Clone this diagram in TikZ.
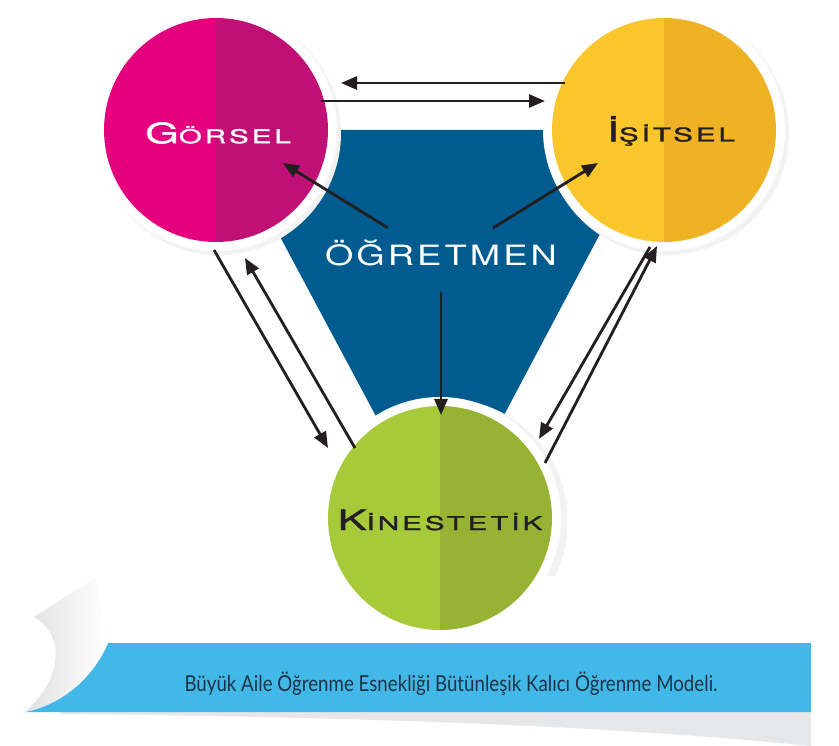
\documentclass[tikz,border=0pt]{standalone}
\usepackage{fontspec}
\usetikzlibrary{arrows.meta}
\newfontfamily\widefont[FakeStretch=1.3,LetterSpace=11]{TeX Gyre Heros}
\newfontfamily\lblfont[FakeStretch=1.55,LetterSpace=16,FakeBold=1.5]{TeX Gyre Heros}
\newfontfamily\capfont[FakeStretch=0.85]{Lato}
\definecolor{magL}{HTML}{E4007E}
\definecolor{magR}{HTML}{C00F75}
\definecolor{yelL}{HTML}{FBC62B}
\definecolor{yelR}{HTML}{EFB224}
\definecolor{grnL}{HTML}{A6CA3A}
\definecolor{grnR}{HTML}{96B334}
\definecolor{tri}{HTML}{005B8F}
\definecolor{band}{HTML}{42B8E9}
\definecolor{capc}{HTML}{1E3446}
\definecolor{ink}{HTML}{231F20}
\definecolor{shadowgray}{HTML}{E6E7E8}
\begin{document}
\begin{tikzpicture}[x=1pt,y=-1pt,
  ring/.style={circle,fill=white,minimum size=242pt,inner sep=0pt},
  shadowc/.style={circle,fill=black!5,minimum size=244pt,inner sep=0pt},
  halves/.style 2 args={circle,minimum size=224pt,inner sep=0pt,
    path picture={\fill[#1] (path picture bounding box.south west) rectangle (path picture bounding box.north);
                  \fill[#2] (path picture bounding box.north) rectangle (path picture bounding box.south east);}},
  arr/.style={line width=2.8pt,draw=ink,-{Triangle[length=16pt,width=13pt]}},
  lbl/.style={inner sep=0pt,font=\lblfont\fontsize{19}{19}\selectfont}]
\useasboundingbox (0,0) rectangle (839,746);
\fill[white] (0,0) rectangle (839,746);
% teacher triangle
\fill[tri] (223,130) -- (655,130) -- (440,536) -- cycle;
% shadows
\begin{scope}
\clip (0,0) rectangle (567,575);
\node[shadowc] (ks) at (446,521) {};
\end{scope}
\node[shadowc] (gs) at (219,133) {};
\node[shadowc] (is) at (667,133) {};
% white rings
\node[ring] (gr) at (216,130) {};
\node[ring] (ir) at (664,130) {};
\node[ring] (kr) at (440,518) {};
% coloured circles
\node[halves={magL}{magR}] (g) at (216,130) {};
\node[halves={yelL}{yelR}] (i) at (664,130) {};
\node[halves={grnL}{grnR}] (k) at (440,518) {};
% labels
\node[lbl,text=white] (tg) at (218,133) {{\fontsize{28}{28}\selectfont G}ÖRSEL};
\node[lbl,text=ink] (ti) at (671,131) {{\fontsize{28}{28}\selectfont İ}ŞİTSEL};
\node[lbl,text=ink] (tk) at (440,520) {{\fontsize{28}{28}\selectfont K}İNESTETİK};
\node[inner sep=0pt,text=white,font=\widefont\fontsize{28}{28}\selectfont] (to) at (441,253) {ÖĞRETMEN};
% arrow end points
\coordinate (a1s) at (565,83);  \coordinate (a1e) at (341,83);
\coordinate (a2s) at (321,101); \coordinate (a2e) at (545,101);
\coordinate (a3s) at (388,228); \coordinate (a3e) at (283,163);
\coordinate (a4s) at (493,228); \coordinate (a4e) at (598,163);
\coordinate (a5s) at (441,292); \coordinate (a5e) at (441,415);
\coordinate (a6s) at (214,250); \coordinate (a6e) at (328,448);
\coordinate (a7s) at (355,448); \coordinate (a7e) at (245,258);
\coordinate (a8s) at (650,247); \coordinate (a8e) at (539,439);
\coordinate (a9s) at (545,463); \coordinate (a9e) at (657,246);
\draw[arr] (a1s) -- (a1e);
\draw[arr] (a2s) -- (a2e);
\draw[arr] (a3s) -- (a3e);
\draw[arr] (a4s) -- (a4e);
\draw[arr] (a5s) -- (a5e);
\draw[arr] (a6s) -- (a6e);
\draw[arr] (a7s) -- (a7e);
\draw[arr] (a8s) -- (a8e);
\draw[arr] (a9s) -- (a9e);
% banner shadow
\fill[shadowgray] (60,712) -- (811,712) -- (811,746) .. controls (700,735) and (500,718) .. (60,714) -- cycle;
% banner
\fill[band] (25,712) .. controls (60,705) and (92,680) .. (108,643) -- (811,643) -- (811,712) -- cycle;
% page curl
\shade[left color=black!12,right color=white] (25,712) .. controls (62,680) and (66,635) .. (34,617) -- (95,578) .. controls (100,600) and (105,625) .. (108,643) .. controls (92,680) and (60,705) .. (25,712) -- cycle;
\node[inner sep=0pt,text=capc,font=\capfont\fontsize{22}{22}\selectfont] (cap) at (451,684) {Büyük Aile Öğrenme Esnekliği Bütünleşik Kalıcı Öğrenme Modeli.};
\end{tikzpicture}
\end{document}
